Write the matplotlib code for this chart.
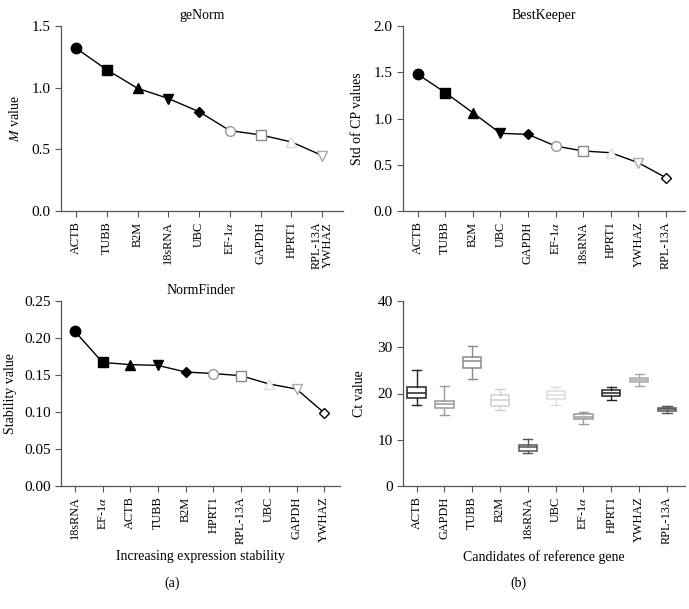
import matplotlib
matplotlib.use("Agg")
import matplotlib.pyplot as plt

plt.rcParams['font.family'] = ['Liberation Serif', 'DejaVu Serif']
plt.rcParams['mathtext.fontset'] = 'stix'

# ---------------- data ----------------
genorm_genes = ["ACTB", "TUBB", "B2M", "18sRNA", "UBC", "EF-1$\\alpha$", "GAPDH", "HPRT1", "RPL-13A\nYWHAZ"]
genorm_m = [1.32, 1.145, 0.995, 0.912, 0.805, 0.652, 0.617, 0.56, 0.45]

bk_genes = ["ACTB", "TUBB", "B2M", "UBC", "GAPDH", "EF-1$\\alpha$", "18sRNA", "HPRT1", "YWHAZ", "RPL-13A"]
bk_std = [1.48, 1.28, 1.063, 0.84, 0.828, 0.702, 0.649, 0.63, 0.522, 0.36]

nf_genes = ["18sRNA", "EF-1$\\alpha$", "ACTB", "TUBB", "B2M", "HPRT1", "RPL-13A", "UBC", "GAPDH", "YWHAZ"]
nf_stab = [0.209, 0.167, 0.164, 0.163, 0.154, 0.152, 0.149, 0.138, 0.131, 0.0988]

ct_genes = ["ACTB", "GAPDH", "TUBB", "B2M", "18sRNA", "UBC", "EF-1$\\alpha$", "HPRT1", "YWHAZ", "RPL-13A"]
ct_low = [17.6, 15.4, 23.2, 16.5, 7.2, 17.6, 13.5, 18.6, 21.6, 15.8]
ct_q1 = [19.0, 16.9, 25.6, 17.3, 7.6, 18.8, 14.5, 19.5, 22.5, 16.3]
ct_med = [20.1, 17.7, 27.05, 18.7, 8.35, 19.7, 15.0, 20.1, 22.9, 16.6]
ct_q3 = [21.4, 18.4, 27.9, 19.7, 8.85, 20.5, 15.5, 20.8, 23.4, 16.9]
ct_high = [25.1, 21.7, 30.3, 20.9, 10.2, 21.5, 16.1, 21.5, 24.2, 17.3]
ct_colors = ["#222222", "#9a9a9a", "#8a8a8a", "#cfcfcf", "#555555",
             "#dcdcdc", "#999999", "#222222", "#a8a8a8", "#555555"]

# marker style sequence (marker, face, edge, size)
marker_styles = [
    ("o", "black", "black", 7.5),
    ("s", "black", "black", 7),
    ("^", "black", "black", 7.5),
    ("v", "black", "black", 7.5),
    ("D", "black", "black", 5),
    ("o", "white", "#999999", 7),
    ("s", "white", "#888888", 7),
    ("^", "white", "#dddddd", 7.5),
    ("v", "white", "#aaaaaa", 7.5),
    ("D", "white", "black", 5.5),
]

fig = plt.figure(figsize=(6.89, 6.09), dpi=100)

ax1 = fig.add_axes([61/689, 1-211/609, 282/689, 185/609])
ax2 = fig.add_axes([403/689, 1-211/609, 282/689, 185/609])
ax3 = fig.add_axes([61/689, 1-486/609, 279/689, 185/609])
ax4 = fig.add_axes([403/689, 1-486/609, 282/689, 185/609])

tick_fs = 8.8
label_fs = 10


def style_axis(ax):
    for s in ["top", "right"]:
        ax.spines[s].set_visible(False)
    for s in ["left", "bottom"]:
        ax.spines[s].set_color("#555555")
        ax.spines[s].set_linewidth(0.9)
    ax.tick_params(direction="out", length=4, width=0.8, color="#555555",
                   labelsize=11)
    ax.tick_params(axis="x", labelsize=tick_fs)


def line_chart(ax, genes, vals):
    xs = list(range(len(genes)))
    ax.plot(xs, vals, color="black", lw=1.0, zorder=2)
    for i, v in enumerate(vals):
        mk, fc, ec, ms = marker_styles[i]
        ax.plot(i, v, marker=mk, mfc=fc, mec=ec, ms=ms, mew=1.0, zorder=3,
                clip_on=False)
    ax.set_xticks(xs)
    ax.set_xticklabels(genes, rotation=90, fontsize=tick_fs, linespacing=0.85)
    style_axis(ax)


# geNorm
line_chart(ax1, genorm_genes, genorm_m)
ax1.set_xlim(-0.49, 8.68)
ax1.set_ylim(0, 1.5)
ax1.set_yticks([0.0, 0.5, 1.0, 1.5])
ax1.set_yticklabels(["0.0", "0.5", "1.0", "1.5"])
ax1.set_ylabel("$\\mathit{M}$ value", fontsize=label_fs, labelpad=7)
ax1.set_title("geNorm", fontsize=label_fs, pad=5)

# BestKeeper
line_chart(ax2, bk_genes, bk_std)
ax2.set_xlim(-0.53, 9.69)
ax2.set_ylim(0, 2.0)
ax2.set_yticks([0.0, 0.5, 1.0, 1.5, 2.0])
ax2.set_yticklabels(["0.0", "0.5", "1.0", "1.5", "2.0"])
ax2.set_ylabel("Std of CP values", fontsize=label_fs, labelpad=7)
ax2.set_title("BestKeeper", fontsize=label_fs, pad=5)

# NormFinder
line_chart(ax3, nf_genes, nf_stab)
ax3.set_xlim(-0.5, 9.57)
ax3.set_ylim(0, 0.25)
ax3.set_yticks([0.0, 0.05, 0.10, 0.15, 0.20, 0.25])
ax3.set_yticklabels(["0.00", "0.05", "0.10", "0.15", "0.20", "0.25"])
ax3.set_ylabel("Stability value", fontsize=label_fs, labelpad=5)
ax3.set_xlabel("Increasing expression stability", fontsize=10)
ax3.set_title("NormFinder", fontsize=label_fs, pad=5)

# Ct boxplot
stats = []
for i in range(len(ct_genes)):
    stats.append(dict(whislo=ct_low[i], q1=ct_q1[i], med=ct_med[i],
                      q3=ct_q3[i], whishi=ct_high[i], fliers=[]))
bp = ax4.bxp(stats, positions=list(range(len(ct_genes))), widths=0.66,
             capwidths=0.33, showfliers=False, patch_artist=True)
for i, c in enumerate(ct_colors):
    bp["boxes"][i].set(facecolor="white", edgecolor=c, linewidth=1.1)
    bp["medians"][i].set(color=c, linewidth=1.1)
    bp["whiskers"][2*i].set(color=c, linewidth=1.0)
    bp["whiskers"][2*i+1].set(color=c, linewidth=1.0)
    bp["caps"][2*i].set(color=c, linewidth=1.0)
    bp["caps"][2*i+1].set(color=c, linewidth=1.0)
ax4.set_xticks(range(len(ct_genes)))
ax4.set_xticklabels(ct_genes, rotation=90, fontsize=tick_fs)
ax4.set_xlim(-0.49, 9.65)
ax4.set_ylim(0, 40)
ax4.set_yticks([0, 10, 20, 30, 40])
ax4.set_ylabel("Ct value", fontsize=label_fs, labelpad=8)
ax4.set_xlabel("Candidates of reference gene", fontsize=10)
style_axis(ax4)

fig.text(172/689, 1-583/609, "(a)", ha="center", va="center", fontsize=label_fs)
fig.text(518/689, 1-583/609, "(b)", ha="center", va="center", fontsize=label_fs)

fig.savefig("out.png", dpi=100)
